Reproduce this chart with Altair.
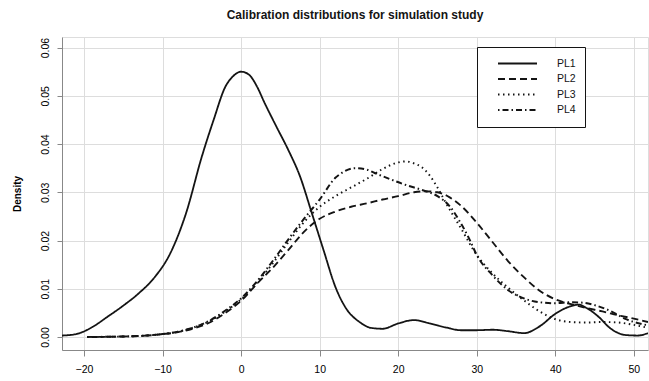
import altair as alt
import pandas as pd

# ---- data ----
series_names = ["PL1", "PL2", "PL3", "PL4"]

pl1_x = [-22.8, -21, -19, -17, -15, -13, -11, -9, -7, -5, -3.5, -2, -1, 0, 1, 2, 3, 4.5, 6, 7.5,
         9, 10.5, 12, 13.5, 15, 16.5, 18, 20, 22, 24, 26, 28, 30, 32, 34, 36, 38, 40, 42, 43,
         44, 45.5, 47, 49, 50.5, 51.8]
pl1_y = [0.0003, 0.0006, 0.002, 0.0042, 0.0065, 0.0091, 0.0124, 0.0174, 0.0257, 0.0374, 0.045,
         0.0519, 0.0541, 0.055, 0.0544, 0.052, 0.0485, 0.0436, 0.0388, 0.0333, 0.0257, 0.018,
         0.0104, 0.0056, 0.0032, 0.0019, 0.0017, 0.0028, 0.0035, 0.0028, 0.002, 0.0014, 0.0014,
         0.0015, 0.0012, 0.0008, 0.0022, 0.0048, 0.0064, 0.0067, 0.006, 0.0042, 0.0018, 0.0004,
         0.0003, 0.0008]

pl2_x = [-19.6, -15, -12, -10, -8, -6, -4, -2, 0, 2, 4, 6, 8, 10, 12, 14, 16, 18, 20, 22, 23.5,
         25, 26.5, 28, 30, 32, 34, 36, 38, 40, 42, 44, 46, 48, 50, 51.8]
pl2_y = [0.0, 0.0001, 0.0003, 0.0006, 0.001, 0.0018, 0.003, 0.005, 0.0075, 0.011, 0.0143, 0.018,
         0.0218, 0.0245, 0.026, 0.027, 0.0277, 0.0285, 0.0292, 0.03, 0.0302, 0.03, 0.029, 0.0272,
         0.0237, 0.0197, 0.0157, 0.0124, 0.0096, 0.0078, 0.0068, 0.006, 0.0053, 0.0045, 0.0038,
         0.0031]

pl3_x = [-19.6, -15, -12, -10, -8, -6, -4, -2, 0, 2, 4, 6, 8, 10, 12, 14, 16, 18, 20, 21, 22, 23,
         24, 25, 26, 28, 30, 32, 34, 36, 38, 40, 42, 44, 46, 48, 50, 51.8]
pl3_y = [0.0, 0.0001, 0.0003, 0.0006, 0.0011, 0.002, 0.0033, 0.0053, 0.0078, 0.0112, 0.0152,
         0.0196, 0.0238, 0.027, 0.0292, 0.031, 0.0328, 0.0348, 0.0362, 0.0364, 0.036, 0.0352,
         0.0335, 0.031, 0.028, 0.0225, 0.017, 0.0132, 0.0102, 0.0076, 0.0053, 0.0037, 0.0031,
         0.003, 0.0031, 0.003, 0.0025, 0.0019]

pl4_x = [-19.6, -15, -12, -10, -8, -6, -4, -2, 0, 2, 4, 6, 8, 10, 12, 13, 14.5, 16, 17, 19, 21,
         23, 25, 26.5, 28, 29, 30, 32, 34, 36, 38, 40, 42, 43.5, 45, 47, 49, 51.8]
pl4_y = [0.0, 0.0001, 0.0003, 0.0006, 0.0011, 0.002, 0.0034, 0.0055, 0.008, 0.0115, 0.0157,
         0.0202, 0.0245, 0.0285, 0.033, 0.0342, 0.035, 0.0347, 0.034, 0.0327, 0.0315, 0.0305,
         0.0292, 0.0272, 0.0235, 0.0205, 0.017, 0.0128, 0.0097, 0.008, 0.0072, 0.007, 0.0072,
         0.0071, 0.0066, 0.0054, 0.0037, 0.0024]

x_ticks = [-20, -10, 0, 10, 20, 30, 40, 50]
y_ticks = [0.0, 0.01, 0.02, 0.03, 0.04, 0.05, 0.06]

frames = []
for name, xs, ys in [("PL1", pl1_x, pl1_y), ("PL2", pl2_x, pl2_y),
                     ("PL3", pl3_x, pl3_y), ("PL4", pl4_x, pl4_y)]:
    frames.append(pd.DataFrame({"series": name, "x": xs, "y": ys}))
df = pd.concat(frames, ignore_index=True)

FONT = "Liberation Sans"
INK = "#141414"

chart = (
    alt.Chart(df)
    .mark_line(color=INK, interpolate="monotone", clip=True)
    .encode(
        x=alt.X("x:Q",
                scale=alt.Scale(domain=[-22.8, 51.8], nice=False, zero=False),
                axis=alt.Axis(values=x_ticks, title=None, format="d",
                              tickSize=6, labelPadding=8, labelFontSize=10.5)),
        y=alt.Y("y:Q",
                scale=alt.Scale(domain=[-0.0027, 0.0622], nice=False, zero=False),
                axis=alt.Axis(values=y_ticks, title="Density", format=".2f",
                              tickSize=5, labelPadding=7, labelFontSize=10.5,
                              labelAngle=270, labelAlign="center", labelBaseline="bottom",
                              titleFontSize=10, titlePadding=18)),
        strokeDash=alt.StrokeDash(
            "series:N",
            scale=alt.Scale(domain=series_names,
                            range=[[1, 0], [7, 4], [1.5, 3.5], [1.5, 3, 6, 3]]),
            legend=alt.Legend(
                title=None, orient="none", legendX=415, legendY=10,
                direction="vertical", symbolType="stroke", symbolSize=1521,
                clipHeight=15, symbolOffset=11, labelOffset=19, padding=9,
                rowPadding=0.5, strokeColor=INK, fillColor="white",
                symbolStrokeColor=INK, symbolStrokeWidth=1.6,
                labelFontSize=10.5, labelFont=FONT, labelColor=INK,
                labelExpr="datum.label + '             '"),
        ),
        strokeWidth=alt.StrokeWidth(
            "series:N",
            scale=alt.Scale(domain=series_names, range=[1.8, 2.0, 1.5, 1.8]),
            legend=None),
    )
    .properties(
        width=586, height=313,
        title=alt.TitleParams("Calibration distributions for simulation study",
                              fontSize=12, fontWeight="bold", font=FONT, color=INK,
                              anchor="middle", offset=15),
        autosize=alt.AutoSizeParams(type="none"),
        padding={"left": 62, "top": 37, "right": 1, "bottom": 31},
    )
    .configure_view(stroke=INK, strokeWidth=1.3)
    .configure_axis(domain=False, grid=False, tickColor=INK, labelColor=INK,
                    titleColor=INK, labelFont=FONT, titleFont=FONT, tickWidth=1)
    .configure(background="white")
)

chart.save("out.html", embed_options={"renderer": "svg", "actions": False})
